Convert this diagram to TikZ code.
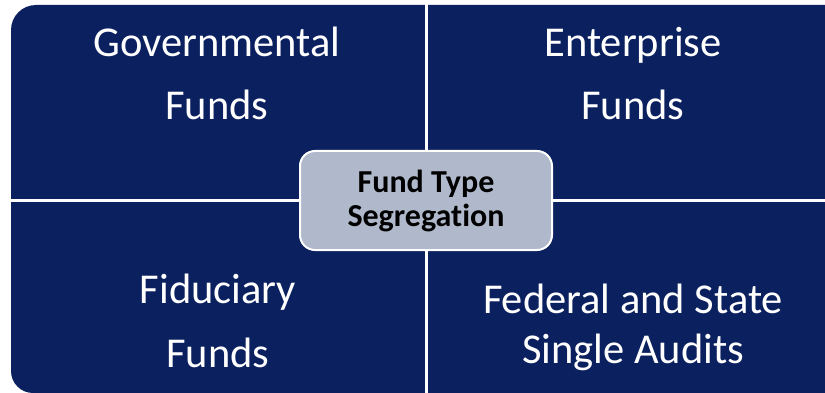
\documentclass[tikz,border=0pt]{standalone}
\usepackage{fontspec}
\setmainfont{Carlito}[Ligatures={NoCommon}]
\definecolor{navy}{RGB}{11,32,94}
\definecolor{boxfill}{RGB}{176,185,203}
\begin{document}
\begin{tikzpicture}[x=1pt,y=-1pt,
  quadtext/.style={text=white,align=center,inner sep=0pt,anchor=base,
    font=\fontsize{42.5}{63}\selectfont},
  centerbox/.style={draw=white,line width=2pt,fill=boxfill,rounded corners=15pt,
    minimum width=252pt,minimum height=99pt,align=center,inner sep=0pt,
    font=\bfseries\fontsize{32}{34}\selectfont}]
\useasboundingbox (0,0) rectangle (825,393);
\fill[navy] (11,200) [rounded corners=25pt] -- (11,5) [rounded corners=14pt] -- (824,5)
  [sharp corners] -- (840,5) -- (840,393) [rounded corners=22pt] -- (11,393) [sharp corners] -- cycle;
\coordinate (vt) at (426,0);
\coordinate (vb) at (426,393);
\coordinate (hl) at (0,200);
\coordinate (hr) at (825,200);
\draw[white,line width=3pt] (vt) -- (vb);
\draw[white,line width=3pt] (hl) -- (hr);
\node[quadtext] (gov) at (217,120) {Governmental\\Funds};
\node[quadtext] (ent) at (633,120) {Enterprise\\Funds};
\node[quadtext,font=\fontsize{42.5}{64}\selectfont] (fid) at (218,367) {Fiduciary\\Funds};
\node[quadtext,font=\fontsize{42.5}{50}\selectfont] (fed) at (633,363) {Federal and State\\Single Audits};
\node[centerbox] (ctr) at (426,200.5) {Fund Type\\Segregation};
\end{tikzpicture}
\end{document}
